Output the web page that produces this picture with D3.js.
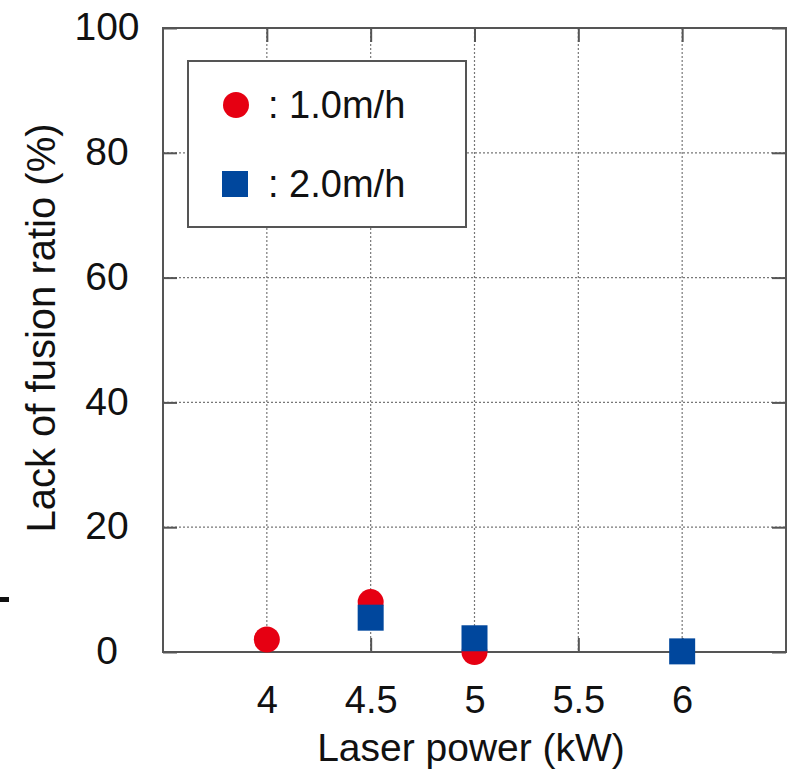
<!DOCTYPE html>
<meta charset="utf-8">
<style>
  body { margin: 0; background: white; }
  text { font-family: "Liberation Sans", Arial, sans-serif; fill: #111; }
  .grid line { stroke: #777; stroke-width: 1.2; stroke-dasharray: 2,2; }
  .axis path { display: none; }
  .axis line { stroke: #555; stroke-width: 2; }
</style>
<body>
<script src="https://d3js.org/d3.v7.min.js"></script>
<script>
  var width = 798,
      height = 770;

  // data
  var xTicks = [4, 4.5, 5, 5.5, 6];
  var yTicks = [0, 20, 40, 60, 80, 100];
  var power10 = [4, 4.5, 5];          // 1.0 m/h
  var ratio10 = [2, 8, 0];
  var power20 = [4.5, 5, 6];          // 2.0 m/h
  var ratio20 = [5.5, 2.2, 0.1];
  var legendLabels = [": 1.0m/h", ": 2.0m/h"];

  var red = "#e60012", blue = "#00479d";
  var margin = {top: 28, left: 163, right: 12, bottom: 118};
  var w = width - margin.left - margin.right,
      h = height - margin.top - margin.bottom;

  var svg = d3.select("body").append("svg")
              .attr("width", width)
              .attr("height", height);

  var g = svg.append("g").attr("transform", "translate(" + margin.left + "," + margin.top + ")");

  var x = d3.scaleLinear().domain([3.5, 6.5]).range([0, w]);
  var y = d3.scaleLinear().domain([0, 100]).range([h, 0]);

  // dotted grid
  var grid = g.append("g").attr("class", "grid");
  grid.selectAll(".vx").data(xTicks).enter().append("line")
      .attr("x1", d => x(d)).attr("x2", d => x(d))
      .attr("y1", 0).attr("y2", h);
  grid.selectAll(".hy").data(yTicks.slice(1, -1)).enter().append("line")
      .attr("y1", d => y(d)).attr("y2", d => y(d))
      .attr("x1", 0).attr("x2", w);

  // axes with inward ticks on all sides
  var tick = 14;
  var bottom = g.append("g").attr("class", "axis")
      .attr("transform", "translate(0," + h + ")")
      .call(d3.axisBottom(x).tickValues(xTicks).tickSize(-tick).tickPadding(34)
               .tickFormat(d3.format("")));
  bottom.selectAll("text").style("font-size", "38px").attr("fill", "#111");

  g.append("g").attr("class", "axis")
      .call(d3.axisTop(x).tickValues(xTicks).tickSize(-tick).tickFormat(""));

  var left = g.append("g").attr("class", "axis")
      .call(d3.axisLeft(y).tickValues(yTicks).tickSize(-tick));
  left.selectAll("text")
      .style("font-size", "39px")
      .attr("fill", "#111")
      .attr("text-anchor", "middle")
      .attr("x", -56)
      .attr("dy", "0.3em");

  g.append("g").attr("class", "axis")
      .attr("transform", "translate(" + w + ",0)")
      .call(d3.axisRight(y).tickValues(yTicks).tickSize(-tick).tickFormat(""));

  // frame
  g.append("rect")
      .attr("width", w).attr("height", h)
      .attr("fill", "none").attr("stroke", "#555").attr("stroke-width", 2);

  // legend
  var leg = g.append("g").attr("transform", "translate(25,33)");
  leg.append("rect").attr("width", 278).attr("height", 166)
     .attr("fill", "white").attr("stroke", "#555").attr("stroke-width", 2);
  leg.append("circle").attr("cx", 48).attr("cy", 44).attr("r", 13).attr("fill", red);
  leg.append("rect").attr("x", 34).attr("y", 110).attr("width", 26).attr("height", 26).attr("fill", blue);
  leg.selectAll(".lt").data(legendLabels).enter().append("text")
     .attr("x", 80).attr("y", (d, i) => 57 + i * 79)
     .style("font-size", "38px")
     .text(d => d);

  // points
  g.selectAll(".c10").data(power10).enter().append("circle")
      .attr("cx", d => x(d))
      .attr("cy", (d, i) => y(ratio10[i]))
      .attr("r", 13)
      .attr("fill", red);

  g.selectAll(".s20").data(power20).enter().append("rect")
      .attr("x", d => x(d) - 13)
      .attr("y", (d, i) => y(ratio20[i]) - 13)
      .attr("width", 26).attr("height", 26)
      .attr("fill", blue);

  // axis titles
  svg.append("text")
      .attr("x", 471).attr("y", 761)
      .attr("text-anchor", "middle")
      .style("font-size", "39px")
      .text("Laser power (kW)");

  svg.append("text")
      .attr("transform", "translate(55,328) rotate(-90)")
      .attr("text-anchor", "middle")
      .style("font-size", "40px")
      .text("Lack of fusion ratio (%)");

  // stray dash at the left edge of the picture
  svg.append("rect").attr("x", 0).attr("y", 597).attr("width", 9).attr("height", 5).attr("fill", "#111");
</script>
</body>
